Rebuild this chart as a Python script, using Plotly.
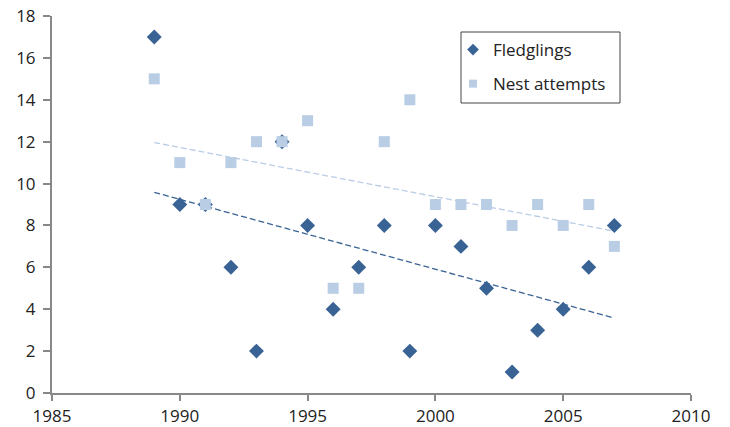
import numpy as np
import plotly.graph_objects as go

years = [1989, 1990, 1991, 1992, 1993, 1994, 1995, 1996, 1997, 1998,
         1999, 2000, 2001, 2002, 2003, 2004, 2005, 2006, 2007]
fledglings = [17, 9, 9, 6, 2, 12, 8, 4, 6, 8, 2, 8, 7, 5, 1, 3, 4, 6, 8]
nest_attempts = [15, 11, 9, 11, 12, 12, 13, 5, 5, 12, 14, 9, 9, 9, 8, 9, 8, 9, 7]

x_ticks = [1985, 1990, 1995, 2000, 2005, 2010]
y_ticks = [0, 2, 4, 6, 8, 10, 12, 14, 16, 18]

dark = "#3A6395"
light = "#B9CDE5"

yr = np.array(years, dtype=float)
fit_f = np.polyfit(yr, fledglings, 1)
fit_n = np.polyfit(yr, nest_attempts, 1)
xline = [years[0], years[-1]]

fig = go.Figure()
fig.add_trace(go.Scatter(x=xline, y=np.polyval(fit_n, xline), mode="lines",
                         line=dict(color=light, width=1.3, dash="6px,3px"),
                         showlegend=False, hoverinfo="skip"))
fig.add_trace(go.Scatter(x=xline, y=np.polyval(fit_f, xline), mode="lines",
                         line=dict(color=dark, width=1.3, dash="6px,3px"),
                         showlegend=False, hoverinfo="skip"))
fig.add_trace(go.Scatter(x=years, y=fledglings, mode="markers", name="Fledglings",
                         marker=dict(symbol="diamond", size=11.5, color=dark),
                         showlegend=False))
fig.add_trace(go.Scatter(x=years, y=nest_attempts, mode="markers", name="Nest attempts",
                         marker=dict(symbol="square", size=11, color=light),
                         showlegend=False))
# legend entries
fig.add_trace(go.Scatter(x=[None], y=[None], mode="markers", name="Fledglings",
                         marker=dict(symbol="diamond", size=9, color=dark),
                         legendgroup="a"))
fig.add_trace(go.Scatter(x=[None], y=[None], mode="markers", name="Nest attempts",
                         marker=dict(symbol="square", size=8, color=light),
                         legendgroup="b"))

axis_common = dict(showgrid=False, zeroline=False, showline=True, linecolor="#888888",
                   linewidth=2, ticks="outside", tickcolor="#888888", tickwidth=2,
                   tickfont=dict(size=17, color="#222222"), automargin=False)

fig.update_layout(
    width=730, height=427,
    margin=dict(l=52, r=39, t=16, b=34),
    paper_bgcolor="white", plot_bgcolor="white",
    font=dict(family="Open Sans, Noto Sans, sans-serif", size=17, color="#222222"),
    xaxis=dict(range=[1985, 2010], tickvals=x_ticks, ticklen=6, ticklabelstandoff=1,
               **axis_common),
    yaxis=dict(range=[0, 18], tickvals=y_ticks, ticklen=7, ticklabelstandoff=4,
               **axis_common),
    showlegend=True,
    legend=dict(x=(453 - 52) / 639, y=(393 - 32) / 377, xanchor="left", yanchor="top",
                borderwidth=0, bgcolor="rgba(0,0,0,0)",
                traceorder="grouped", font=dict(size=17),
                itemwidth=30, tracegroupgap=9, itemsizing="trace"),
    shapes=[dict(type="rect", xref="paper", yref="paper",
                 x0=(461 - 52) / 639, x1=(620 - 52) / 639,
                 y0=(393 - 103) / 377, y1=(393 - 32) / 377,
                 line=dict(color="#444444", width=1), fillcolor="rgba(0,0,0,0)",
                 layer="above")],
)

fig.write_html("out.html")
